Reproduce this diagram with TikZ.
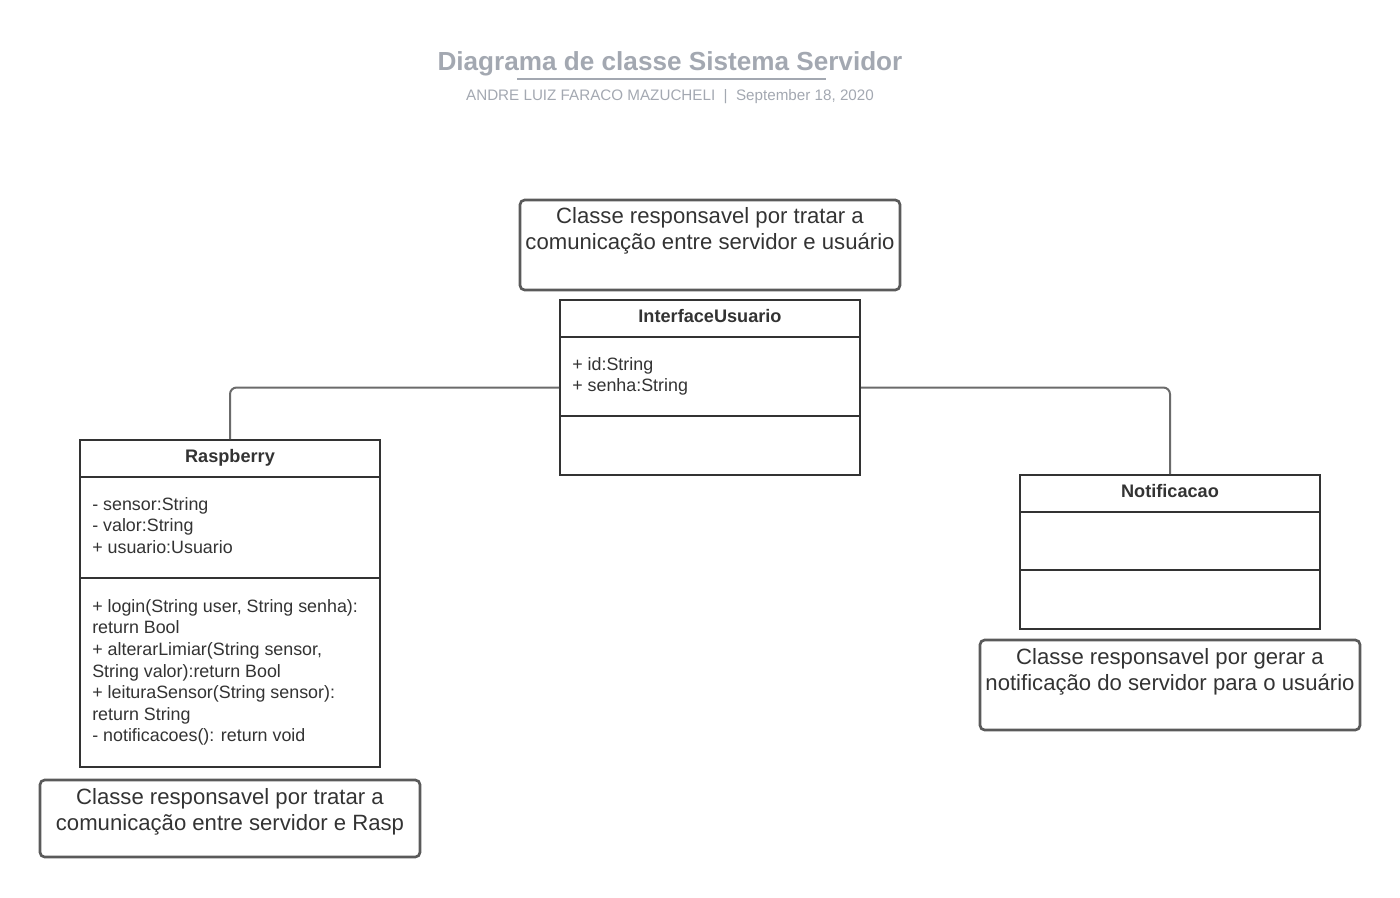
\documentclass[tikz,border=0pt]{standalone}
\usepackage{fontspec}
\setmainfont{Liberation Sans}
\definecolor{titlegray}{HTML}{A3A8B1}
\definecolor{boxline}{HTML}{333333}
\definecolor{noteline}{HTML}{5A5A5A}
\definecolor{linkline}{HTML}{6B6B6B}
\tikzset{
  classbox/.style={draw=boxline, line width=1.5pt, fill=white},
  notebox/.style={draw=noteline, line width=2pt, rounded corners=3.5pt},
  classname/.style={font=\bfseries\fontsize{13.6}{16.2}\selectfont, text=boxline},
  members/.style={font=\fontsize{13.4}{16.2}\selectfont, text=boxline, align=left, anchor=north west},
  notetext/.style={font=\fontsize{16.6}{19.9}\selectfont, text=boxline, align=center, anchor=north},
  link/.style={draw=linkline, line width=1.5pt, rounded corners=5pt}
}
\begin{document}
\begin{tikzpicture}[x=0.75pt,y=-0.75pt]
    \tikzstyle{every node}+=[inner sep=0pt]
    \useasboundingbox (0,0) rectangle (1400,897);
    % header
    \node[font=\bfseries\fontsize{19.6}{23}\selectfont, text=titlegray] (title) at (670,64) {Diagrama de classe Sistema Servidor};
    \draw[titlegray, line width=1.5pt] (517,79) -- (826,79);
    \node[font=\fontsize{11.4}{14}\selectfont, text=titlegray] (author) at (670,97) {ANDRE LUIZ FARACO MAZUCHELI \ \textbar\ \ September 18, 2020};
    % classes
    \node[classbox, minimum width=225pt, minimum height=131.25pt] (iface) at (710,387.5) {};
    \draw[boxline, line width=1.5pt] (iface.north west) ++(0,38) -- ++(300,0);
    \draw[boxline, line width=1.5pt] (iface.north west) ++(0,117) -- ++(300,0);
    \node[classname] (ifacename) at (710,316.5) {InterfaceUsuario};
    \node[members] (ifaceattr) at (572,357) {+ id:String\\+ senha:String};

    \node[classbox, minimum width=225pt, minimum height=245.25pt] (rasp) at (230,603.5) {};
    \draw[boxline, line width=1.5pt] (rasp.north west) ++(0,38) -- ++(300,0);
    \draw[boxline, line width=1.5pt] (rasp.north west) ++(0,139) -- ++(300,0);
    \node[classname] (raspname) at (230,457.5) {Raspberry};
    \node[members] (raspattr) at (92,497) {- sensor:String\\- valor:String\\+ usuario:Usuario};
    \node[members] (raspops) at (92,599) {+ login(String user, String senha):\\return Bool\\+ alterarLimiar(String sensor,\\String valor):return Bool\\+ leituraSensor(String sensor):\\return String\\- notificacoes(): return void};

    \node[classbox, minimum width=225pt, minimum height=115.5pt] (notif) at (1170,552) {};
    \draw[boxline, line width=1.5pt] (notif.north west) ++(0,38) -- ++(300,0);
    \draw[boxline, line width=1.5pt] (notif.north west) ++(0,96) -- ++(300,0);
    \node[classname] (notifname) at (1170,491.5) {Notificacao};

    % notes
    \node[notebox, minimum width=285pt, minimum height=67.5pt] (ifacenote) at (710,245) {};
    \node[notetext] (ifacenotetxt) at (710,207) {Classe responsavel por tratar a\\comunicação entre servidor e usuário};
    \node[notebox, minimum width=285pt, minimum height=57.75pt] (raspnote) at (230,818.5) {};
    \node[notetext] (raspnotetxt) at (230,788) {Classe responsavel por tratar a\\comunicação entre servidor e Rasp};
    \node[notebox, minimum width=285pt, minimum height=67.5pt] (notifnote) at (1170,685) {};
    \node[notetext] (notifnotetxt) at (1170,648) {Classe responsavel por gerar a\\notificação do servidor para o usuário};

    % associations
    \draw[link] (iface.west) -| (rasp.north);
    \draw[link] (iface.east) -| (notif.north);
\end{tikzpicture}
\end{document}
